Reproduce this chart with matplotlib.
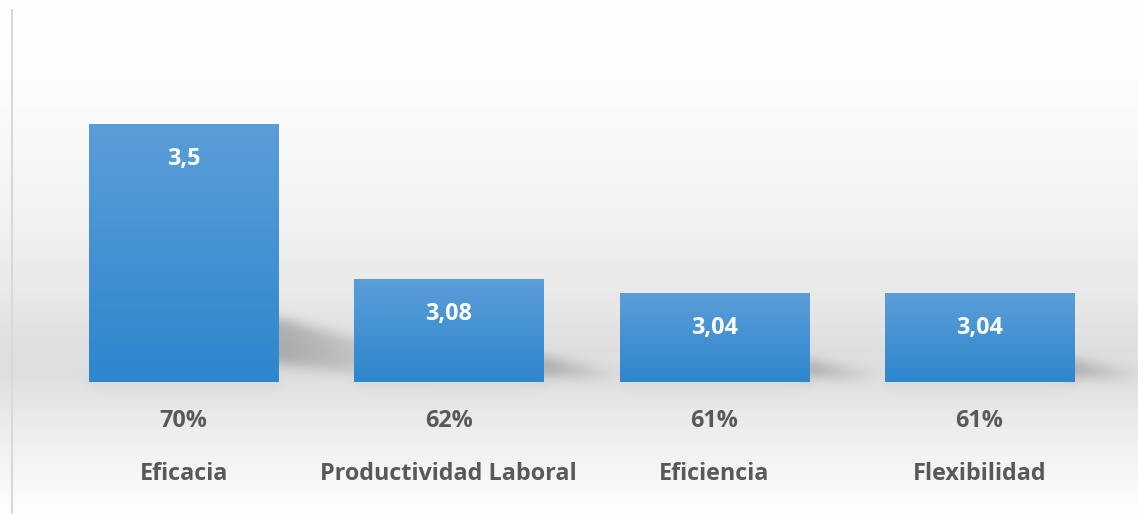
#!/usr/bin/env python3
"""Bar chart: indicadores (Eficacia, Productividad Laboral, ...) with Excel-like styling."""
import numpy as np
import matplotlib
matplotlib.use("Agg")
import matplotlib.pyplot as plt
from matplotlib.lines import Line2D

# Data
categories = ["Eficacia", "Productividad Laboral", "Eficiencia", "Flexibilidad"]
values = [3.5, 3.08, 3.04, 3.04]
value_labels = ["3,5", "3,08", "3,04", "3,04"]
percent_labels = ["70%", "62%", "61%", "61%"]

# Style
W, H = 1138, 514
DPI = 100
TEXT = "#595959"
BAR_TOP = np.array([0x5b, 0x9e, 0xd8]) / 255
BAR_BOT = np.array([0x2e, 0x86, 0xcd]) / 255
FONT = ["Open Sans", "DejaVu Sans"]
FS = 16.8

plt.rcParams["font.family"] = FONT

fig = plt.figure(figsize=(W / DPI, H / DPI), dpi=DPI)
ax_bg = fig.add_axes([0, 0, 1, 1], zorder=0)
ax = fig.add_axes([51 / W, 132 / H, 1061 / W, 369 / H], zorder=1)
ax.patch.set_alpha(0)

x = np.arange(len(categories))
ax.set_xlim(-0.5, len(categories) - 0.5)
ax.set_ylim(2.8, 3.8)
bars = ax.bar(x, [v - 2.8 for v in values], bottom=2.8, width=0.713,
              facecolor="none", edgecolor="none", zorder=2)

# gradient fill inside every bar
grad = np.linspace(0, 1, 256)[:, None, None] * (BAR_BOT - BAR_TOP) + BAR_TOP
for b in bars:
    x0, y0 = b.get_x(), b.get_y()
    im = ax.imshow(grad, extent=[x0, x0 + b.get_width(), y0, y0 + b.get_height()],
                   aspect="auto", origin="upper", zorder=2, interpolation="bilinear")
    im.set_clip_path(b)
ax.set_xlim(-0.5, len(categories) - 0.5)
ax.set_ylim(2.8, 3.8)

# background: vertical grey gradient plus soft cast shadows (pixel space)
stops_y = [0, 80, 200, 300, 350, 372, 395, 450, 514]
stops_c = [255, 253, 244, 232, 223, 222, 229, 242, 254]
rows = np.interp(np.arange(H), stops_y, stops_c) / 255
bg = np.repeat(rows[:, None], W, axis=1)

mask = np.zeros((H, W))
yy, xx = np.mgrid[0:H, 0:W]
for b in bars:
    (px0, py0), (px1, py1) = ax.transData.transform(
        [(b.get_x(), b.get_y()), (b.get_x() + b.get_width(), b.get_y() + b.get_height())])
    yb = H - py0          # baseline, from top
    h = py1 - py0         # bar height in px
    xr = px1
    L = 0.45 * h + 30
    t = np.clip((xx - xr) / L, 0, 1)
    inside_x = (xx >= xr - 10) & (xx <= xr + L)
    top = yb - 0.25 * h + t * 0.15 * h
    bot = yb - 0.07 * h + t * 0.06 * h
    fade = (1 - t) ** 0.9
    sel = inside_x & (yy >= top) & (yy <= bot)
    mask[sel] = np.maximum(mask[sel], fade[sel])
    # thin shadow just under the bar
    under = (xx >= px0) & (xx <= px1 + 3) & (yy >= yb) & (yy <= yb + 3)
    mask[under] = np.maximum(mask[under], 0.4)


def blur(a, sigma):
    r = int(3 * sigma)
    k = np.exp(-0.5 * (np.arange(-r, r + 1) / sigma) ** 2)
    k /= k.sum()
    a = np.apply_along_axis(lambda v: np.convolve(v, k, mode="same"), 0, a)
    return np.apply_along_axis(lambda v: np.convolve(v, k, mode="same"), 1, a)


mask = blur(mask, 6)
bg = bg * (1 - 0.24 * mask)
ax_bg.imshow(np.dstack([bg] * 3), extent=[0, W, 0, H], aspect="auto",
             origin="upper", interpolation="bilinear")
ax_bg.set_xlim(0, W)
ax_bg.set_ylim(0, H)
ax_bg.axis("off")

# left border line
fig.add_artist(Line2D([11.5 / W, 11.5 / W], [0, 1 - 10 / H], transform=fig.transFigure,
                      color="#d9d9d9", linewidth=1.5))

# labels
for i, (v, vl, pl, cat) in enumerate(zip(values, value_labels, percent_labels, categories)):
    ax.annotate(vl, xy=(i, v), xytext=(0, -35 * 72 / DPI), textcoords="offset points",
                ha="center", va="center", color="white", fontsize=FS, fontweight="bold")
    ax.annotate(pl, xy=(i, 2.8), xytext=(0, -39 * 72 / DPI), textcoords="offset points",
                ha="center", va="center", color=TEXT, fontsize=FS, fontweight="bold")
    ax.annotate(cat, xy=(i, 2.8), xytext=(0, -92 * 72 / DPI), textcoords="offset points",
                ha="center", va="center", color=TEXT, fontsize=FS, fontweight="bold")

ax.axis("off")
fig.savefig("out.png", dpi=DPI)
